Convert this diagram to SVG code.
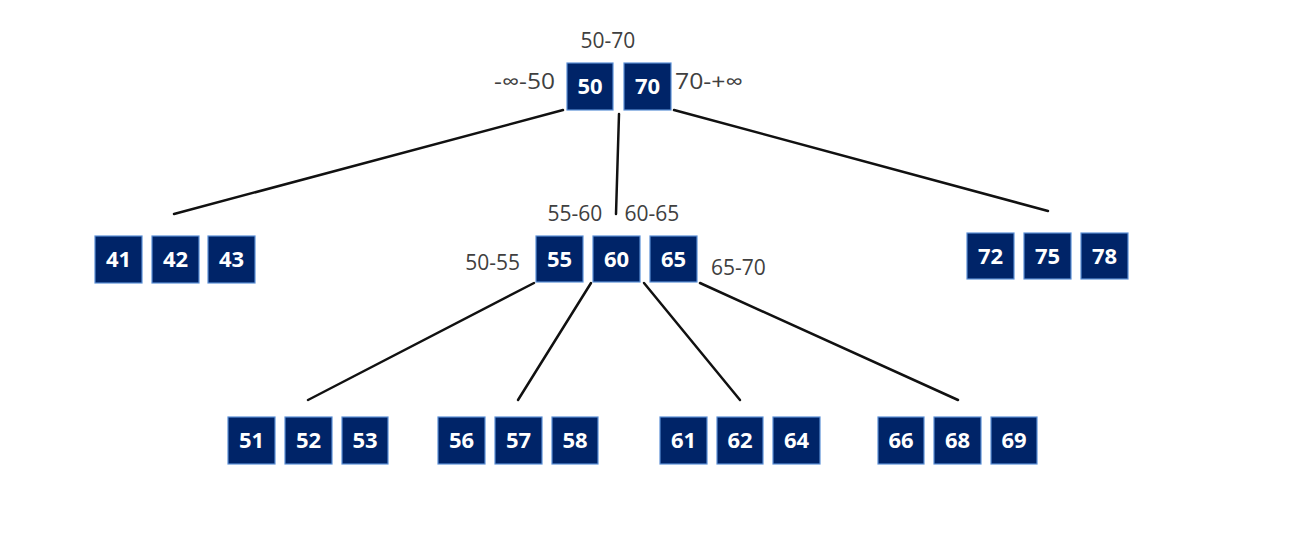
<svg xmlns="http://www.w3.org/2000/svg" width="1296" height="553" viewBox="0 0 1296 553">
<style>
.box rect{fill:#002468;stroke:#5b8fd6;stroke-width:1.2}
.box text{fill:#fff;font-family:"Open Sans","Noto Sans",sans-serif;font-weight:bold;font-size:22px;text-anchor:middle}
.lbl{fill:#404040;font-family:"Open Sans","Noto Sans",sans-serif;font-size:21px}
.conn line{stroke:#111;stroke-width:2.5;stroke-linecap:round}
</style>
<rect width="1296" height="553" fill="#fff"/>
<g class="conn" id="connectors">
<line x1="563" y1="110" x2="174" y2="214"/>
<line x1="619" y1="114" x2="616" y2="214"/>
<line x1="674" y1="110" x2="1048" y2="211"/>
<line x1="534" y1="283" x2="308" y2="400"/>
<line x1="591" y1="283" x2="518" y2="400"/>
<line x1="644" y1="283" x2="740" y2="400"/>
<line x1="700" y1="283" x2="958" y2="400"/>
</g>
<g id="labels">
<text class="lbl" x="608" y="48" text-anchor="middle">50-70</text>
<text class="lbl" x="555" y="89" text-anchor="end" textLength="61" lengthAdjust="spacingAndGlyphs">-∞-50</text>
<text class="lbl" x="675" y="89" textLength="68" lengthAdjust="spacingAndGlyphs">70-+∞</text>
<text class="lbl" x="575" y="221" text-anchor="middle">55-60</text>
<text class="lbl" x="652" y="221" text-anchor="middle">60-65</text>
<text class="lbl" x="520" y="270" text-anchor="end">50-55</text>
<text class="lbl" x="711" y="275">65-70</text>
</g>
<g id="node-root" class="box">
<rect x="567" y="63" width="46" height="47"/><text x="590" y="94">50</text>
<rect x="624" y="63" width="47" height="47"/><text x="647.5" y="94">70</text>
</g>
<g id="node-41-43" class="box">
<rect x="95" y="236" width="47" height="47"/><text x="118.5" y="267">41</text>
<rect x="152" y="236" width="47" height="47"/><text x="175.5" y="267">42</text>
<rect x="208" y="236" width="47" height="47"/><text x="231.5" y="267">43</text>
</g>
<g id="node-55-65" class="box">
<rect x="536" y="236" width="47" height="46"/><text x="559.5" y="267">55</text>
<rect x="593" y="236" width="47" height="46"/><text x="616.5" y="267">60</text>
<rect x="650" y="236" width="47" height="46"/><text x="673.5" y="267">65</text>
</g>
<g id="node-72-78" class="box">
<rect x="967" y="233" width="47" height="46"/><text x="990.5" y="264">72</text>
<rect x="1024" y="233" width="47" height="46"/><text x="1047.5" y="264">75</text>
<rect x="1081" y="233" width="47" height="46"/><text x="1104.5" y="264">78</text>
</g>
<g id="node-51-53" class="box">
<rect x="228" y="417" width="47" height="47"/><text x="251.5" y="448">51</text>
<rect x="285" y="417" width="47" height="47"/><text x="308.5" y="448">52</text>
<rect x="342" y="417" width="46" height="47"/><text x="365" y="448">53</text>
</g>
<g id="node-56-58" class="box">
<rect x="438" y="417" width="47" height="47"/><text x="461.5" y="448">56</text>
<rect x="495" y="417" width="47" height="47"/><text x="518.5" y="448">57</text>
<rect x="552" y="417" width="46" height="47"/><text x="575" y="448">58</text>
</g>
<g id="node-61-64" class="box">
<rect x="660" y="417" width="47" height="47"/><text x="683.5" y="448">61</text>
<rect x="717" y="417" width="46" height="47"/><text x="740" y="448">62</text>
<rect x="773" y="417" width="47" height="47"/><text x="796.5" y="448">64</text>
</g>
<g id="node-66-69" class="box">
<rect x="878" y="417" width="46" height="47"/><text x="901" y="448">66</text>
<rect x="934" y="417" width="47" height="47"/><text x="957.5" y="448">68</text>
<rect x="991" y="417" width="46" height="47"/><text x="1014" y="448">69</text>
</g>
</svg>
